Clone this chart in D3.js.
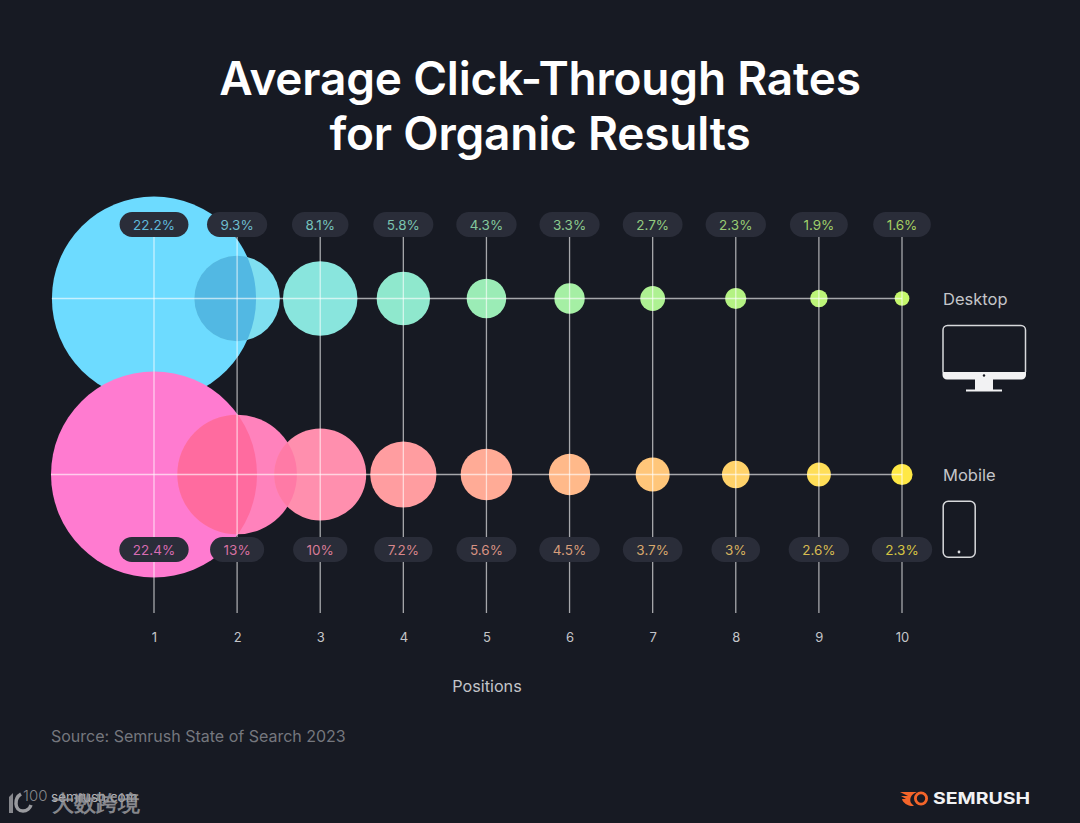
<!DOCTYPE html>
<html>
<head>
<meta charset="utf-8">
<script src="https://cdn.jsdelivr.net/npm/d3@7"></script>
<style>
    html, body { margin: 0; padding: 0; background: #171a23; }
    svg { display: block; }
    text { font-family: Inter, sans-serif; }
</style>
</head>
<body>
<div id="chart"></div>
<script>
const titleLines = ["Average Click-Through Rates", "for Organic Results"];
const positions = [1, 2, 3, 4, 5, 6, 7, 8, 9, 10];
const desktop = [22.2, 9.3, 8.1, 5.8, 4.3, 3.3, 2.7, 2.3, 1.9, 1.6];
const mobile = [22.4, 13, 10, 7.2, 5.6, 4.5, 3.7, 3, 2.6, 2.3];
const desktopColors = ["#6ddbff", "#7fdff0", "#89e5dd", "#8fe8cd", "#9becb6", "#a5efa4", "#aef192", "#b4f283", "#bcf478", "#c5f76c"];
const mobileColors = ["#ff7bd0", "#ff82bc", "#ff8fae", "#ff9da0", "#ffab96", "#ffb98a", "#ffc67a", "#ffd26a", "#ffde58", "#ffe845"];
// colour where a circle overlaps the previous one, null when they do not touch
const desktopOverlap = ["#52b8e3", null, null, null, null, null, null, null, null, null];
const mobileOverlap = ["#ff6b9f", "#ff7aa6", null, null, null, null, null, null, null, null];

const width = 1080, height = 823;
const svg = d3.select("#chart").append("svg")
    .attr("width", width)
    .attr("height", height)
    .attr("viewBox", `0 0 ${width} ${height}`);

svg.append("rect").attr("width", width).attr("height", height).attr("fill", "#171a23");

const x = d3.scalePoint().domain(positions).range([154, 902]);
const r = d3.scaleLinear().domain([0, 22.4]).range([0, 103]);
const rows = [
    {name: "desktop", values: desktop, colors: desktopColors, overlap: desktopOverlap, cy: 298.5, pillY: 212},
    {name: "mobile", values: mobile, colors: mobileColors, overlap: mobileOverlap, cy: 474.5, pillY: 537}
];

// title
svg.append("g").selectAll("text").data(titleLines).join("text")
    .attr("x", 540)
    .attr("y", (d, i) => 95 + i * 55)
    .attr("text-anchor", "middle")
    .attr("fill", "#fff")
    .attr("font-size", 46)
    .attr("font-weight", 600)
    .attr("letter-spacing", -0.2)
    .text(d => d);

// circles
const defs = svg.append("defs");
rows.forEach(row => {
    const g = svg.append("g");
    g.selectAll("circle.bubble").data(row.values).join("circle")
        .attr("class", "bubble")
        .attr("cx", (d, i) => x(positions[i]))
        .attr("cy", row.cy)
        .attr("r", d => r(d))
        .attr("fill", (d, i) => row.colors[i]);

    row.overlap.forEach((color, i) => {
        if (!color) return;
        const id = `clip-${row.name}-${i}`;
        defs.append("clipPath").attr("id", id).append("circle")
            .attr("cx", x(positions[i]))
            .attr("cy", row.cy)
            .attr("r", r(row.values[i]));
        g.append("circle")
            .attr("cx", x(positions[i + 1]))
            .attr("cy", row.cy)
            .attr("r", r(row.values[i + 1]))
            .attr("fill", color)
            .attr("clip-path", `url(#${id})`);
    });
});

// grid lines sit on top of the circles
const grid = svg.append("g").attr("stroke", "#fff").attr("stroke-opacity", 0.62).attr("stroke-width", 1.3);
grid.selectAll("line.v").data(positions).join("line")
    .attr("class", "v")
    .attr("x1", d => x(d))
    .attr("x2", d => x(d))
    .attr("y1", 225)
    .attr("y2", 613);
grid.selectAll("line.h").data(rows).join("line")
    .attr("class", "h")
    .attr("x1", d => x(1) - r(d.values[0]))
    .attr("x2", x(10))
    .attr("y1", d => d.cy)
    .attr("y2", d => d.cy);

// value pills
rows.forEach(row => {
    const pill = svg.append("g").selectAll("g").data(row.values).join("g")
        .attr("transform", (d, i) => `translate(${x(positions[i])},${row.pillY})`);
    const rects = pill.append("rect")
        .attr("y", 0)
        .attr("height", 25)
        .attr("rx", 12.5)
        .attr("fill", "#2a2d39");
    const labels = pill.append("text")
        .attr("y", 17.8)
        .attr("text-anchor", "middle")
        .attr("font-size", 13.5)
        .attr("font-weight", 400)
        .attr("fill", (d, i) => row.colors[i])
        .attr("fill-opacity", 0.82)
        .text(d => `${d}%`);
    rects.each(function (d, i) {
        const w = labels.nodes()[i].getComputedTextLength() + 27;
        d3.select(this).attr("x", -w / 2).attr("width", w);
    });
});

// position axis
const axis = svg.append("g")
    .attr("transform", "translate(0,625)")
    .call(d3.axisBottom(x).tickSize(0).tickPadding(8));
axis.select(".domain").remove();
axis.selectAll("text")
    .attr("font-family", "Inter, sans-serif")
    .attr("font-size", 13)
    .attr("fill", "#c4c5c9");

svg.append("text")
    .attr("x", 487).attr("y", 692)
    .attr("text-anchor", "middle")
    .attr("font-size", 16.2)
    .attr("fill", "#c4c5c9")
    .text("Positions");

// device legend
const legend = svg.append("g").attr("fill", "#c4c5c9").attr("font-size", 16.5);
legend.append("text").attr("x", 943).attr("y", 305).text("Desktop");
legend.append("text").attr("x", 943).attr("y", 481).text("Mobile");

const monitor = svg.append("g");
monitor.append("path")
    .attr("d", "M943 372V330a4.5 4.5 0 0 1 4.5-4.5H1021a4.5 4.5 0 0 1 4.5 4.5V372")
    .attr("fill", "none").attr("stroke", "#d8d9dc").attr("stroke-width", 1.5);
monitor.append("path")
    .attr("d", "M942.5 372H1026V375a4.5 4.5 0 0 1-4.5 4.5H993V389.5H1002V391.5H966V389.5H975V379.5H947a4.5 4.5 0 0 1-4.5-4.5Z")
    .attr("fill", "#f2f2f3");
monitor.append("circle").attr("cx", 984).attr("cy", 375.5).attr("r", 1.2).attr("fill", "#171a23");

svg.append("rect")
    .attr("x", 943.2).attr("y", 501.2).attr("width", 32).attr("height", 56).attr("rx", 5)
    .attr("fill", "none").attr("stroke", "#d8d9dc").attr("stroke-width", 1.5);
svg.append("circle").attr("cx", 959).attr("cy", 552).attr("r", 1.4).attr("fill", "#d8d9dc");

// footer
svg.append("text")
    .attr("x", 51).attr("y", 742)
    .attr("font-size", 16)
    .attr("fill", "#75777e")
    .text("Source: Semrush State of Search 2023");

svg.append("text")
    .attr("x", 51).attr("y", 802)
    .attr("font-size", 13.5)
    .attr("fill", "#b5b6ba")
    .text("semrush.com");

// watermark over the site name
const mark = svg.append("g").attr("fill", "#9a9b9f").attr("fill-opacity", 0.85);
mark.append("text")
    .attr("x", 52).attr("y", 811)
    .attr("font-size", 22)
    .attr("font-weight", 700)
    .attr("font-family", "'Noto Sans CJK SC'")
    .text("大数跨境");
mark.append("text")
    .attr("x", 23).attr("y", 801)
    .attr("font-size", 15)
    .attr("font-weight", 300)
    .text("100");
mark.append("path")
    .attr("d", "M9 797L13 793V813H9Z");
mark.append("path")
    .attr("d", "M21 794C14 798 14 811 23 811C27 811 30 808 31 805")
    .attr("fill", "none").attr("stroke", "#9a9b9f").attr("stroke-width", 3.5);

// brand
const brand = svg.append("g");
brand.append("path")
    .attr("d", "M900 792H917C911 794 909 799 911 803L914 806C908 806.5 903 803 902 799H906L901 796H908Z")
    .attr("fill", "#f4652a");
brand.append("circle").attr("cx", 921).attr("cy", 798.5).attr("r", 5.6)
    .attr("fill", "#171a23").attr("stroke", "#f4652a").attr("stroke-width", 2.8);
brand.append("text")
    .attr("x", 933).attr("y", 804)
    .attr("font-family", "'Liberation Sans', sans-serif")
    .attr("font-weight", 700)
    .attr("font-size", 16)
    .attr("textLength", 97)
    .attr("lengthAdjust", "spacingAndGlyphs")
    .attr("fill", "#f2f2f3")
    .text("SEMRUSH");
</script>
</body>
</html>
